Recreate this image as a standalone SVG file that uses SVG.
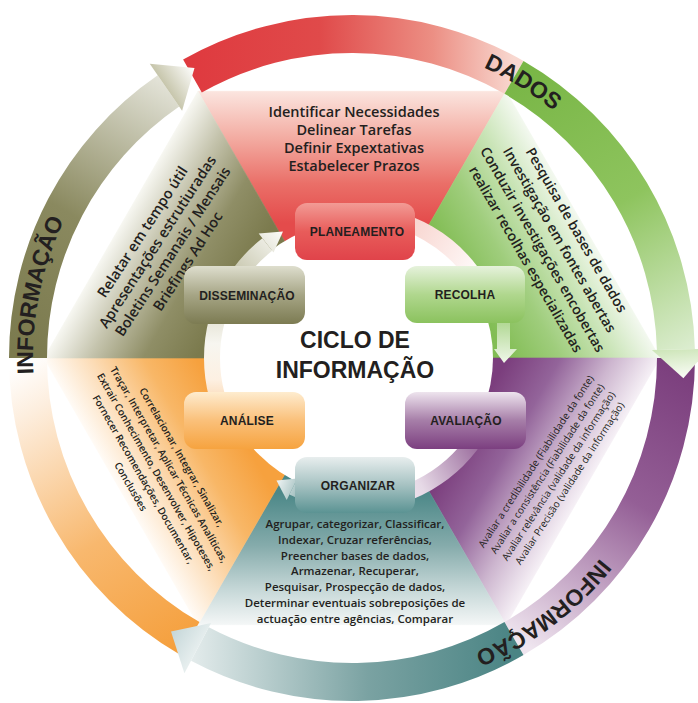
<svg xmlns="http://www.w3.org/2000/svg" width="698" height="703" viewBox="0 0 698 703">
<style>
.wt{font-family:"Open Sans","Liberation Sans",Arial,sans-serif;font-weight:600;fill:#231f20;text-anchor:middle}
.t14{font-size:14.5px}
.t14g{font-size:14px}
.t10{font-size:10px}
.t10r{font-size:10px;font-weight:400}
.t11{font-size:11.5px}
.lbl{font-family:"Liberation Sans",Arial,sans-serif;font-weight:700;font-size:12px;fill:#231f20;text-anchor:middle;letter-spacing:0.2px}
.ring{font-family:"Liberation Sans",Arial,sans-serif;font-weight:700;font-size:23px;fill:#231f20;text-anchor:middle}
.title{font-family:"Liberation Sans",Arial,sans-serif;font-weight:700;font-size:23px;fill:#231f20;text-anchor:middle}
.band{fill:none;stroke-width:16}
</style>
<defs>
<linearGradient id="wRed" gradientUnits="userSpaceOnUse" x1="352" y1="223" x2="352" y2="92"><stop offset="0" stop-color="#e44b4b"/><stop offset="0.3" stop-color="#ea6f68"/><stop offset="0.65" stop-color="#f3aca2"/><stop offset="1" stop-color="#fbe4de"/></linearGradient>
<linearGradient id="wGreen" gradientUnits="userSpaceOnUse" x1="468.9" y1="290.5" x2="582.4" y2="225"><stop offset="0" stop-color="#82bd54"/><stop offset="0.35" stop-color="#9fcd7c"/><stop offset="0.7" stop-color="#c9e4b6"/><stop offset="1" stop-color="#f2f8ee"/></linearGradient>
<linearGradient id="wPurple" gradientUnits="userSpaceOnUse" x1="468.9" y1="425.5" x2="582.4" y2="491"><stop offset="0" stop-color="#7b3e7d"/><stop offset="0.35" stop-color="#93649a"/><stop offset="0.7" stop-color="#cdb6cf"/><stop offset="1" stop-color="#f5eff5"/></linearGradient>
<linearGradient id="wTeal" gradientUnits="userSpaceOnUse" x1="352" y1="493" x2="352" y2="624"><stop offset="0" stop-color="#4c8888"/><stop offset="0.4" stop-color="#85abab"/><stop offset="0.75" stop-color="#c8d9d9"/><stop offset="1" stop-color="#f3f6f6"/></linearGradient>
<linearGradient id="wOrange" gradientUnits="userSpaceOnUse" x1="235.1" y1="425.5" x2="121.6" y2="491"><stop offset="0" stop-color="#f6a13e"/><stop offset="0.35" stop-color="#f8b767"/><stop offset="0.7" stop-color="#fcdcb6"/><stop offset="1" stop-color="#fffaf4"/></linearGradient>
<linearGradient id="wOlive" gradientUnits="userSpaceOnUse" x1="235.1" y1="290.5" x2="121.6" y2="225"><stop offset="0" stop-color="#7b7a4d"/><stop offset="0.35" stop-color="#8f8e66"/><stop offset="0.7" stop-color="#c4c3ac"/><stop offset="1" stop-color="#f6f6f0"/></linearGradient>

<linearGradient id="rRed" gradientUnits="userSpaceOnUse" x1="190" y1="77" x2="514" y2="77"><stop offset="0" stop-color="#df3a3f"/><stop offset="0.4" stop-color="#e04a4a"/><stop offset="0.75" stop-color="#ec8f84"/><stop offset="1" stop-color="#f8d8d0"/></linearGradient>
<linearGradient id="rGreen" gradientUnits="userSpaceOnUse" x1="514" y1="77" x2="676" y2="358"><stop offset="0" stop-color="#79b646"/><stop offset="0.5" stop-color="#8ec45e"/><stop offset="1" stop-color="#dcedd0"/></linearGradient>
<linearGradient id="rPurple" gradientUnits="userSpaceOnUse" x1="676" y1="358" x2="514" y2="639"><stop offset="0" stop-color="#7a3d7c"/><stop offset="0.45" stop-color="#945f96"/><stop offset="1" stop-color="#efe5ef"/></linearGradient>
<linearGradient id="rTeal" gradientUnits="userSpaceOnUse" x1="514" y1="639" x2="190" y2="639"><stop offset="0" stop-color="#4a8484"/><stop offset="0.45" stop-color="#7aa2a2"/><stop offset="1" stop-color="#e4ecec"/></linearGradient>
<linearGradient id="rOrange" gradientUnits="userSpaceOnUse" x1="190" y1="639" x2="28" y2="358"><stop offset="0" stop-color="#f5a03e"/><stop offset="0.4" stop-color="#f8b86e"/><stop offset="0.85" stop-color="#fdeede"/><stop offset="1" stop-color="#ffffff"/></linearGradient>
<linearGradient id="rOlive" gradientUnits="userSpaceOnUse" x1="28" y1="358" x2="190" y2="77"><stop offset="0" stop-color="#7b7a4e"/><stop offset="0.45" stop-color="#8a895f"/><stop offset="1" stop-color="#ecece4"/></linearGradient>

<linearGradient id="hOlive" gradientUnits="userSpaceOnUse" x1="166" y1="87" x2="194.5" y2="68"><stop offset="0" stop-color="#c7c6ac"/><stop offset="1" stop-color="#ffffff"/></linearGradient>
<linearGradient id="hGreen" gradientUnits="userSpaceOnUse" x1="680" y1="349" x2="683" y2="378"><stop offset="0" stop-color="#cfe6bb"/><stop offset="1" stop-color="#fafdf7"/></linearGradient>
<linearGradient id="hTeal" gradientUnits="userSpaceOnUse" x1="198" y1="648" x2="171" y2="631"><stop offset="0" stop-color="#e6eeee"/><stop offset="1" stop-color="#c4d6d8"/></linearGradient>

<linearGradient id="iRed" gradientUnits="userSpaceOnUse" x1="356" y1="214" x2="480.7" y2="286"><stop offset="0" stop-color="#ec7a72"/><stop offset="0.35" stop-color="#f8d4ce"/><stop offset="1" stop-color="#ffffff"/></linearGradient>
<linearGradient id="iGreen" gradientUnits="userSpaceOnUse" x1="500" y1="315" x2="500" y2="363"><stop offset="0" stop-color="#a6d284"/><stop offset="1" stop-color="#f0f8ea"/></linearGradient>
<linearGradient id="iPurple" gradientUnits="userSpaceOnUse" x1="480.7" y1="430" x2="356" y2="502"><stop offset="0" stop-color="#8f5c92"/><stop offset="0.55" stop-color="#e6d9e6"/><stop offset="1" stop-color="#ffffff"/></linearGradient>
<linearGradient id="iTeal" gradientUnits="userSpaceOnUse" x1="297" y1="489" x2="276" y2="480"><stop offset="0" stop-color="#a9c4c4"/><stop offset="1" stop-color="#f2f6f6"/></linearGradient>
<linearGradient id="iOrange" gradientUnits="userSpaceOnUse" x1="231" y1="430" x2="231" y2="286"><stop offset="0" stop-color="#f8be7e"/><stop offset="0.35" stop-color="#fdf0e2"/><stop offset="0.6" stop-color="#f7f6f0"/><stop offset="1" stop-color="#cfcdb4"/></linearGradient>
<linearGradient id="iOlive" gradientUnits="userSpaceOnUse" x1="231" y1="286" x2="283" y2="232"><stop offset="0" stop-color="#bdbc9f"/><stop offset="1" stop-color="#fbfbf8"/></linearGradient>

<linearGradient id="nRed" x1="0" y1="0" x2="0" y2="1"><stop offset="0" stop-color="#f29b95"/><stop offset="0.5" stop-color="#e85c5a"/><stop offset="1" stop-color="#e0434a"/></linearGradient>
<linearGradient id="nGreen" x1="0" y1="0" x2="0" y2="1"><stop offset="0" stop-color="#e6f2dc"/><stop offset="0.5" stop-color="#b0d78e"/><stop offset="1" stop-color="#8bc25e"/></linearGradient>
<linearGradient id="nOlive" x1="0" y1="0" x2="0" y2="1"><stop offset="0" stop-color="#dedece"/><stop offset="0.5" stop-color="#a6a585"/><stop offset="1" stop-color="#7c7b52"/></linearGradient>
<linearGradient id="nOrange" x1="0" y1="0" x2="0" y2="1"><stop offset="0" stop-color="#feeccf"/><stop offset="0.5" stop-color="#fac07a"/><stop offset="1" stop-color="#f6a33f"/></linearGradient>
<linearGradient id="nPurple" x1="0" y1="0" x2="0" y2="1"><stop offset="0" stop-color="#eee4ee"/><stop offset="0.5" stop-color="#a67ea8"/><stop offset="1" stop-color="#7c3f80"/></linearGradient>
<linearGradient id="nTeal" x1="0" y1="0" x2="0" y2="1"><stop offset="0" stop-color="#e8eeee"/><stop offset="0.5" stop-color="#a6c2c2"/><stop offset="1" stop-color="#5b9393"/></linearGradient>

<path id="lblPath" d="M 352 677 A 319 319 0 1 1 352 39 A 319 319 0 1 1 352 677" fill="none"/>
</defs>

<rect width="698" height="703" fill="#ffffff"/>

<g id="wedges">
  <polygon points="352,358 198,91.3 506,91.3" fill="url(#wRed)" stroke="url(#wRed)" stroke-width="0.6"/>
  <polygon points="352,358 506,91.3 660,358" fill="url(#wGreen)" stroke="url(#wGreen)" stroke-width="0.6"/>
  <polygon points="352,358 660,358 506,624.7" fill="url(#wPurple)" stroke="url(#wPurple)" stroke-width="0.6"/>
  <polygon points="352,358 506,624.7 198,624.7" fill="url(#wTeal)" stroke="url(#wTeal)" stroke-width="0.6"/>
  <polygon points="352,358 198,624.7 44,358" fill="url(#wOrange)" stroke="url(#wOrange)" stroke-width="0.6"/>
  <polygon points="352,358 44,358 198,91.3" fill="url(#wOlive)" stroke="url(#wOlive)" stroke-width="0.6"/>
</g>

<g id="outer-ring">
  <path d="M 183.1 59.5 A 343 343 0 0 1 523.5 60.95 L 504.5 93.85 A 305 305 0 0 0 201.8 92.5 Z" fill="url(#rRed)"/>
  <path d="M 523.5 60.95 A 343 343 0 0 1 694.9 349.0 L 656.9 350.0 A 305 305 0 0 0 504.5 93.85 Z" fill="url(#rGreen)"/>
  <path d="M 695 358 A 343 343 0 0 1 523.5 655.05 L 504.5 622.1 A 305 305 0 0 0 657 358 Z" fill="url(#rPurple)"/>
  <path d="M 523.5 655.05 A 343 343 0 0 1 191.0 660.8 L 208.8 627.3 A 305 305 0 0 0 504.5 622.1 Z" fill="url(#rTeal)"/>
  <path d="M 180.5 655.05 A 343 343 0 0 1 9 358 L 47 358 A 305 305 0 0 0 199.5 622.1 Z" fill="url(#rOrange)"/>
  <path d="M 9 358 A 343 343 0 0 1 157.7 75.3 L 179.2 106.6 A 305 305 0 0 0 47 358 Z" fill="url(#rOlive)"/>
  <polygon points="149.8,63.8 194.5,68 182.1,110.8" fill="url(#hOlive)"/>
  <polygon points="651.9,350.1 708.9,348.7 683.4,378.3" fill="url(#hGreen)"/>
  <polygon points="211.1,622.9 184.4,673.2 171,631.5" fill="url(#hTeal)"/>
  <text class="ring"><textPath href="#lblPath" startOffset="564">INFORMAÇÃO</textPath></text>
  <text class="ring"><textPath href="#lblPath" startOffset="1178.7">DADOS</textPath></text>
  <text class="ring"><textPath href="#lblPath" startOffset="1798.3">INFORMAÇÃO</textPath></text>
</g>

<circle cx="356" cy="358" r="137" fill="#ffffff"/>

<g id="connectors">
  <path class="band" d="M 356 214 A 144 144 0 0 1 480.7 286" stroke="url(#iRed)"/>
  <path d="M 497 315 L 510 315 L 510 349 L 517 349 L 504 363 L 494 349 L 497 349 Z" fill="url(#iGreen)"/>
  <path class="band" d="M 480.7 430 A 144 144 0 0 1 356 502" stroke="url(#iPurple)"/>
  <path class="band" d="M 356 502 A 144 144 0 0 1 292.9 487.4" stroke="url(#iTeal)"/>
  <polygon points="297.3,478.4 286.7,500 276.5,480.5" fill="url(#iTeal)"/>
  <path class="band" d="M 231.3 430 A 144 144 0 0 1 231.3 286" stroke="url(#iOrange)"/>
  <path class="band" d="M 231.3 286 A 144 144 0 0 1 267.3 244.5" stroke="url(#iOlive)"/>
  <polygon points="273.5,252.4 258.7,233.5 283,231.6" fill="url(#iOlive)"/>
</g>

<g id="planeamento">
  <text class="wt t14" x="354" y="117">Identificar Necessidades</text>
  <text class="wt t14" x="354" y="135">Delinear Tarefas</text>
  <text class="wt t14" x="354" y="153">Definir Expextativas</text>
  <text class="wt t14" x="354" y="171">Estabelecer Prazos</text>
  <rect x="295" y="203" width="120" height="57" rx="12" fill="url(#nRed)"/>
  <text class="lbl" x="357" y="235.5">PLANEAMENTO</text>
</g>

<g id="recolha">
  <g transform="translate(576.5,230) rotate(60)">
    <text class="wt t14g" x="0" y="5">Pesquisa de bases de dados</text>
    <text class="wt t14g" x="0" y="24.5">Investigação em fontes abertas</text>
    <text class="wt t14g" x="0" y="44">Conduzir investigações encobertas</text>
    <text class="wt t14g" x="0" y="63.5">realizar recolhas especializadas</text>
  </g>
  <rect x="405" y="266" width="120" height="57" rx="12" fill="url(#nGreen)"/>
  <text class="lbl" x="465" y="299">RECOLHA</text>
</g>

<g id="avaliacao">
  <g transform="translate(536,461.5) rotate(-57)">
    <text class="wt t10r" x="0" y="3.5">Avaliar a credibilidade (Fiabilidade da fonte)</text>
    <text class="wt t10r" x="0" y="16.9">Avaliar a consistência (Fiabilidade da fonte)</text>
    <text class="wt t10r" x="0" y="30.3">Avaliar relevância (validade da informação)</text>
    <text class="wt t10r" x="0" y="43.7">Avaliar Precisão (validade da informação)</text>
  </g>
  <rect x="405" y="392" width="121" height="57" rx="12" fill="url(#nPurple)"/>
  <text class="lbl" x="466" y="425">AVALIAÇÃO</text>
</g>

<g id="organizar">
  <text class="wt t11" x="355" y="528.3">Agrupar, categorizar, Classificar,</text>
  <text class="wt t11" x="355" y="544">Indexar, Cruzar referências,</text>
  <text class="wt t11" x="355" y="559.7">Preencher bases de dados,</text>
  <text class="wt t11" x="355" y="575.4">Armazenar, Recuperar,</text>
  <text class="wt t11" x="355" y="591.1">Pesquisar, Prospecção de dados,</text>
  <text class="wt t11" x="355" y="606.8">Determinar eventuais sobreposições de</text>
  <text class="wt t11" x="355" y="622.5">actuação entre agências, Comparar</text>
  <rect x="295" y="457" width="120" height="56" rx="12" fill="url(#nTeal)"/>
  <text class="lbl" x="358" y="489.5">ORGANIZAR</text>
</g>

<g id="analise">
  <g transform="translate(181.7,457.3) rotate(60)">
    <text class="wt t10" x="0" y="3.5">Correlacionar, Integrar, Sinalizar,</text>
    <text class="wt t10" x="0" y="18.2">Traçar, Interpretar, Aplicar Técnicas Analíticas,</text>
    <text class="wt t10" x="0" y="32.9">Extrair Conhecimento, Desenvolver, Hipoteses,</text>
    <text class="wt t10" x="0" y="47.6">Fornecer Recomendações, Documentar,</text>
    <text class="wt t10" x="0" y="62.3">Conclusões</text>
  </g>
  <rect x="184" y="392" width="121" height="57" rx="12" fill="url(#nOrange)"/>
  <text class="lbl" x="247" y="425">ANÁLISE</text>
</g>

<g id="disseminacao">
  <g transform="translate(142.5,232) rotate(-57)">
    <text class="wt t14" x="0" y="5">Relatar em tempo útil</text>
    <text class="wt t14" x="0" y="23">Apresentações estrutiuradas</text>
    <text class="wt t14" x="0" y="41">Boletins Semanais / Mensais</text>
    <text class="wt t14" x="0" y="59">Briefings Ad Hoc</text>
  </g>
  <rect x="184" y="266" width="121" height="58" rx="12" fill="url(#nOlive)"/>
  <text class="lbl" x="247" y="299.5">DISSEMINAÇÃO</text>
</g>

<g id="centro">
  <text class="title" x="355" y="348">CICLO DE</text>
  <text class="title" x="355" y="378">INFORMAÇÃO</text>
</g>
</svg>
